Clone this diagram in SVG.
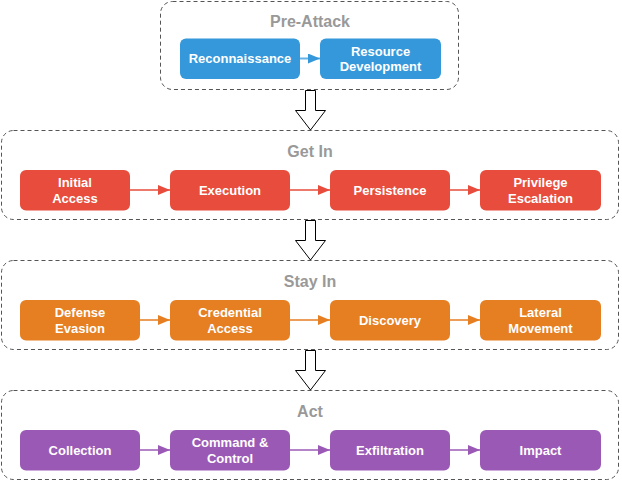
<svg xmlns="http://www.w3.org/2000/svg" width="622" height="482" viewBox="0 0 622 482">
<defs>
<style>
.stage{fill:#ffffff;stroke:#555555;stroke-width:1;stroke-dasharray:4 3}
.title{font-family:"Liberation Sans",Arial,sans-serif;font-weight:bold;font-size:16px;fill:#999999;text-anchor:middle}
.lbl{font-family:"Liberation Sans",Arial,sans-serif;font-weight:bold;font-size:13px;fill:#ffffff;text-anchor:middle}
.blue{fill:#3498db}.red{fill:#e74c3c}.orange{fill:#e67e22}.purple{fill:#9b59b6}
.big{fill:#ffffff;stroke:#000000;stroke-width:1}
.c{stroke-width:2;fill:none;stroke-opacity:0.75}
</style>
<marker id="ab" viewBox="0 0 12 10" refX="12" refY="5" markerWidth="12" markerHeight="10" markerUnits="userSpaceOnUse" orient="auto"><path d="M0,0 L12,5 L0,10 Z" fill="#3498db"/></marker>
<marker id="ar" viewBox="0 0 12 10" refX="12" refY="5" markerWidth="12" markerHeight="10" markerUnits="userSpaceOnUse" orient="auto"><path d="M0,0 L12,5 L0,10 Z" fill="#e74c3c"/></marker>
<marker id="ao" viewBox="0 0 12 10" refX="12" refY="5" markerWidth="12" markerHeight="10" markerUnits="userSpaceOnUse" orient="auto"><path d="M0,0 L12,5 L0,10 Z" fill="#e67e22"/></marker>
<marker id="ap" viewBox="0 0 12 10" refX="12" refY="5" markerWidth="12" markerHeight="10" markerUnits="userSpaceOnUse" orient="auto"><path d="M0,0 L12,5 L0,10 Z" fill="#9b59b6"/></marker>
</defs>

<g id="stage-pre-attack">
<rect class="stage" x="160.5" y="1.5" width="298" height="88" rx="12"/>
<text class="title" x="310" y="26.5">Pre-Attack</text>
</g>
<g id="stage-get-in">
<rect class="stage" x="1.5" y="130.5" width="617" height="89" rx="12"/>
<text class="title" x="310" y="156.5">Get In</text>
</g>
<g id="stage-stay-in">
<rect class="stage" x="1.5" y="260.5" width="617" height="89" rx="12"/>
<text class="title" x="310" y="286.5">Stay In</text>
</g>
<g id="stage-act">
<rect class="stage" x="1.5" y="390.5" width="617" height="89" rx="12"/>
<text class="title" x="310" y="416.5">Act</text>
</g>

<g id="connectors">
<line class="c" x1="300" y1="58.5" x2="320" y2="58.5" stroke="#3498db" marker-end="url(#ab)"/>
<line class="c" x1="130" y1="190" x2="170" y2="190" stroke="#e74c3c" marker-end="url(#ar)"/>
<line class="c" x1="290" y1="190" x2="330" y2="190" stroke="#e74c3c" marker-end="url(#ar)"/>
<line class="c" x1="450" y1="190" x2="480" y2="190" stroke="#e74c3c" marker-end="url(#ar)"/>
<line class="c" x1="140" y1="320" x2="170" y2="320" stroke="#e67e22" marker-end="url(#ao)"/>
<line class="c" x1="290" y1="320" x2="330" y2="320" stroke="#e67e22" marker-end="url(#ao)"/>
<line class="c" x1="450" y1="320" x2="480" y2="320" stroke="#e67e22" marker-end="url(#ao)"/>
<line class="c" x1="140" y1="450" x2="170" y2="450" stroke="#9b59b6" marker-end="url(#ap)"/>
<line class="c" x1="290" y1="450" x2="330" y2="450" stroke="#9b59b6" marker-end="url(#ap)"/>
<line class="c" x1="450" y1="450" x2="480" y2="450" stroke="#9b59b6" marker-end="url(#ap)"/>
<path class="big" d="M305.5,90.5 H315.5 V110.5 H325.5 L310.5,130 L295.5,110.5 H305.5 Z"/>
<path class="big" d="M305.5,220.5 H315.5 V240.5 H325.5 L310.5,260 L295.5,240.5 H305.5 Z"/>
<path class="big" d="M305.5,350.5 H315.5 V370.5 H325.5 L310.5,390 L295.5,370.5 H305.5 Z"/>
</g>

<g id="node-reconnaissance"><rect class="blue" x="180" y="38.5" width="120" height="40.5" rx="6"/><text class="lbl" x="240" y="63">Reconnaissance</text></g>
<g id="node-resource-development"><rect class="blue" x="320" y="38.5" width="121" height="40.5" rx="6"/><text class="lbl" x="380.5" y="55.5">Resource</text><text class="lbl" x="380.5" y="71">Development</text></g>

<g id="node-initial-access"><rect class="red" x="20" y="170" width="110" height="40.5" rx="6"/><text class="lbl" x="75" y="187.3">Initial</text><text class="lbl" x="75" y="202.8">Access</text></g>
<g id="node-execution"><rect class="red" x="170" y="170" width="120" height="40.5" rx="6"/><text class="lbl" x="230" y="195">Execution</text></g>
<g id="node-persistence"><rect class="red" x="330" y="170" width="120" height="40.5" rx="6"/><text class="lbl" x="390" y="195">Persistence</text></g>
<g id="node-privilege-escalation"><rect class="red" x="480" y="170" width="121" height="40.5" rx="6"/><text class="lbl" x="540.5" y="187.3">Privilege</text><text class="lbl" x="540.5" y="202.8">Escalation</text></g>

<g id="node-defense-evasion"><rect class="orange" x="20" y="300" width="120" height="40.5" rx="6"/><text class="lbl" x="80" y="317.3">Defense</text><text class="lbl" x="80" y="332.8">Evasion</text></g>
<g id="node-credential-access"><rect class="orange" x="170" y="300" width="120" height="40.5" rx="6"/><text class="lbl" x="230" y="317.3">Credential</text><text class="lbl" x="230" y="332.8">Access</text></g>
<g id="node-discovery"><rect class="orange" x="330" y="300" width="120" height="40.5" rx="6"/><text class="lbl" x="390" y="325">Discovery</text></g>
<g id="node-lateral-movement"><rect class="orange" x="480" y="300" width="121" height="40.5" rx="6"/><text class="lbl" x="540.5" y="317.3">Lateral</text><text class="lbl" x="540.5" y="332.8">Movement</text></g>

<g id="node-collection"><rect class="purple" x="20" y="430" width="120" height="40.5" rx="6"/><text class="lbl" x="80" y="455">Collection</text></g>
<g id="node-command-control"><rect class="purple" x="170" y="430" width="120" height="40.5" rx="6"/><text class="lbl" x="230" y="447.3">Command &amp;</text><text class="lbl" x="230" y="462.8">Control</text></g>
<g id="node-exfiltration"><rect class="purple" x="330" y="430" width="120" height="40.5" rx="6"/><text class="lbl" x="390" y="455">Exfiltration</text></g>
<g id="node-impact"><rect class="purple" x="480" y="430" width="121" height="40.5" rx="6"/><text class="lbl" x="540.5" y="455">Impact</text></g>
</svg>
